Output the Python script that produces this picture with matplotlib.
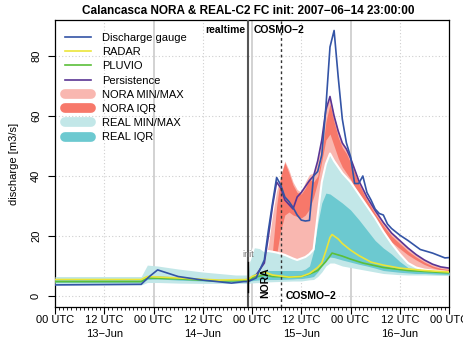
import matplotlib
matplotlib.use("Agg")
import matplotlib.pyplot as plt
from matplotlib.lines import Line2D
import numpy as np

plt.rcParams["font.family"] = ["Liberation Sans", "DejaVu Sans"]

# hours since 2007-06-13 00:00 UTC
gauge_h = [0, 21, 23, 25, 30, 36, 43, 46, 47, 49, 51, 52, 53, 54, 55, 56, 57, 58, 59, 60, 61, 62,
           63, 64, 65, 66, 67, 68, 69, 70, 71, 72, 73, 74, 75, 76, 77, 78, 79, 80, 81, 82, 84, 86,
           89, 92, 95, 96]
gauge_q = [3.7, 3.9, 6.5, 8.7, 6.5, 5.3, 4.3, 4.8, 4.8, 6.0, 12, 22, 31, 39.5, 37, 33, 31.5, 29.5,
           27, 25.3, 25, 25.2, 40, 41.5, 47, 63, 83, 88.5, 73, 59, 51, 46.5, 37.5, 37.5, 40, 34.5,
           32, 29, 27.5, 27, 24, 22.5, 20.3, 18.5, 15.5, 14.3, 12.7, 12.8]

radar_h = [0, 21, 22.5, 30, 40, 47, 48, 51, 53, 57, 60, 62, 64, 65, 66, 67, 67.5, 68, 69, 70, 72,
           74, 77, 80, 84, 90, 96]
radar_q = [5.5, 5.5, 6.5, 6.0, 5.3, 5.5, 6.5, 8.0, 7.0, 6.3, 6.5, 7.5, 9.5, 11, 15, 19.5, 20.5, 20,
           19, 17.5, 15.3, 13.5, 11.3, 10.3, 9.3, 8.5, 8.0]

pluvio_h = [0, 21, 22.5, 30, 40, 47, 48, 51, 53, 57, 60, 62, 64, 66, 67.5, 70, 72, 75, 80, 86, 96]
pluvio_q = [4.8, 4.8, 6.0, 5.7, 5.0, 5.2, 6.0, 7.0, 6.5, 6.3, 6.5, 7.3, 8.5, 11.5, 14.3, 13.3,
            12.3, 11.0, 9.5, 8.5, 7.7]

persist_h = [47, 49, 51, 52, 53, 54, 55, 56, 57, 58, 59, 60, 61, 62, 63, 64, 65, 66, 67, 68, 69,
             70, 71, 72, 74, 76, 78, 80, 82, 84, 86, 88, 90, 92, 94, 96]
persist_q = [5, 7, 11, 20, 30, 38, 36, 32, 30.5, 29, 33, 34.5, 36.5, 38.5, 40, 45, 52, 62, 66.5,
             60, 55, 51, 49, 46, 38.5, 33, 28.5, 24.5, 21, 18.5, 16, 13.8, 12, 10.6, 9.7, 9.3]

nora_h = [47, 49, 50, 51, 52, 53, 54, 55, 56, 57, 58, 59, 60, 61, 62, 63, 64, 65, 66, 67, 68, 69,
          70, 71, 72, 74, 76, 78, 80, 82, 84, 86, 88, 90, 92, 94, 96]
nora_max = [5, 7, 9, 11, 17, 27, 35, 40, 45, 42, 38, 35.5, 34.5, 38, 40.5, 41, 45, 52, 62, 66.5,
            60, 55, 51, 49, 46, 38.5, 33, 28.5, 24.5, 21, 18.5, 16, 13.8, 12, 10.6, 9.7, 9.3]
nora_q75 = [5, 6.5, 7, 8.5, 10, 15, 30, 40, 44.5, 41, 37, 34.5, 34, 36, 39, 38, 40, 47, 58, 64,
            58, 53, 49.5, 47.5, 44.5, 37.5, 32, 27.5, 23.5, 20, 17.5, 15, 13, 11.3, 10, 9.2, 8.8]
nora_q25 = [5, 5.5, 6, 7, 8, 10, 14, 22, 27, 28, 27, 26.5, 26, 27, 29, 33, 38, 45, 52, 54, 50, 46,
            43, 41, 39, 33, 28.5, 24.5, 21, 18, 15.8, 13.7, 12, 10.5, 9.4, 8.7, 8.4]
nora_min = [5, 5.3, 5.5, 5.8, 6, 7, 8, 9, 10, 10.5, 11, 11.2, 11.5, 11.8, 12, 13, 14, 18, 22, 30,
            28, 26, 24, 22, 20, 17.5, 15, 13, 11.5, 10.5, 9.5, 8.8, 8.3, 8, 7.7, 7.5, 7.3]

real_h = [0, 21, 22.5, 25, 30, 36, 44, 47, 47.5, 48.5, 50, 51, 52, 54, 56, 58, 59, 60, 61, 62, 63,
          64, 65, 66, 67, 68, 70, 72, 74, 76, 78, 80, 82, 84, 86, 88, 90, 93, 96]
real_max = [6.5, 6.5, 10.3, 10, 9, 8, 7, 7, 12, 16.3, 16, 15, 15, 14.5, 13.7, 12.5, 12, 12.5, 13,
            14, 15.5, 27, 38, 44, 47.5, 45, 41, 38, 34, 30, 26, 21.5, 17.5, 14, 11, 9.5, 8.8, 8.3, 8]
real_q75 = [5.6, 5.6, 6.8, 6.8, 6.3, 5.8, 5.5, 6, 6.5, 7.5, 8, 8.3, 8.5, 8.5, 8.5, 8.5, 8.5, 8.5,
            9, 10, 15, 24, 31, 34.3, 34, 33, 31, 28.7, 25.5, 22, 18.5, 16, 14, 11.5, 9.5, 8.7, 8.3,
            8, 7.8]
real_q25 = [4.6, 4.6, 5.5, 5.7, 5.3, 5.0, 4.8, 4.8, 5.0, 5.2, 5.4, 5.5, 5.5, 5.5, 5.6, 5.7, 5.8,
            5.8, 6, 6.2, 6.5, 8, 10, 12, 13, 12.8, 12, 11.3, 10.6, 10, 9.3, 8.5, 8.2, 7.9, 7.7, 7.5,
            7.5, 7.3, 7.2]
real_min = [3.7, 3.7, 4.5, 4.5, 4.3, 4.2, 4.2, 4.2, 4.3, 4.4, 4.5, 4.6, 4.7, 4.8, 4.9, 5, 5, 5,
            5.2, 5.4, 5.5, 6.5, 8, 10, 11, 11, 10, 9.5, 9, 8.5, 8, 7.5, 7.3, 7.1, 7, 7, 7, 6.9, 6.8]

tick_hours = [0, 12, 24, 36, 48, 60, 72, 84, 96]
tick_labels = ["00 UTC", "12 UTC\n13\u2212Jun", "00 UTC", "12 UTC\n14\u2212Jun", "00 UTC",
               "12 UTC\n15\u2212Jun", "00 UTC", "12 UTC\n16\u2212Jun", "00 UTC"]
init_h = 47
cosmo_h = 55

c_gauge = "#3354a6"
c_radar = "#ebe53a"
c_pluvio = "#5bbf3a"
c_persist = "#5a3594"
c_nora_mm = "#f9b7b0"
c_nora_iqr = "#f7786a"
c_real_mm = "#c2e7e8"
c_real_iqr = "#6cc9d0"

fig = plt.figure(figsize=(4.63, 3.52), dpi=100)
ax = fig.add_axes([0.1188, 0.1278, 0.851, 0.8154])

# grid
for h in [24, 48, 72]:
    ax.axvline(h, color="#cfcfcf", lw=1.3, zorder=0)
for h in [12, 36, 60, 84]:
    ax.axvline(h, color="#cfcfcf", lw=0.8, ls=(0, (1, 2)), zorder=0)
for v in [0, 20, 40, 60, 80]:
    ax.axhline(v, color="#cfcfcf", lw=0.8, ls=(0, (1, 2)), zorder=0)

# bands
ax.fill_between(nora_h, nora_min, nora_max, color=c_nora_mm, lw=0, zorder=1)
ax.fill_between(nora_h, nora_q25, nora_q75, color=c_nora_iqr, lw=0, zorder=2)
ax.fill_between(real_h, real_min, real_max, color=c_real_mm, lw=0, zorder=3)
ax.fill_between(real_h, real_q25, real_q75, color=c_real_iqr, lw=0, zorder=4)
ax.plot(real_h[8:], real_max[8:], color="white", lw=1.5, zorder=5)

# lines
ax.plot(persist_h, persist_q, color=c_persist, lw=1.2, zorder=6)
ax.plot(pluvio_h, pluvio_q, color=c_pluvio, lw=1.2, zorder=7)
ax.plot(radar_h, radar_q, color=c_radar, lw=1.2, zorder=8)
ax.plot(gauge_h, gauge_q, color=c_gauge, lw=1.2, zorder=9)

# markers for init / model change
ax.axvline(init_h, color="#555555", lw=1.5, zorder=10)
ax.axvline(cosmo_h, color="#333333", lw=1.0, ls=(0, (2, 2)), zorder=10)
ax.plot([init_h, init_h], [1.3, 11.3], color="black", lw=1.0, zorder=11)
ax.text(init_h, 13.7, "init", color="#777777", fontsize=6.5, ha="center", va="center", zorder=11)
ax.text(46.3, 88.7, "realtime", fontsize=7.5, fontweight="bold", ha="right", va="center")
ax.text(48.3, 88.7, "COSMO\u22122", fontsize=7.5, fontweight="bold", ha="left", va="center")
ax.text(51.3, 4.5, "NORA", fontsize=7.5, fontweight="bold", rotation=90, ha="center",
        va="center", zorder=12)
ax.text(56.2, 0, "COSMO\u22122", fontsize=7.5, fontweight="bold", ha="left", va="center", zorder=12)

ax.set_xlim(0, 96)
ax.set_ylim(-3.67, 92)
ax.set_xticks(tick_hours)
ax.set_xticklabels(tick_labels, fontsize=8, linespacing=1.5)
ax.set_xticks(np.arange(0, 97, 1), minor=True)
ax.tick_params(axis="x", which="major", length=5, width=0.8, pad=1)
ax.tick_params(axis="x", which="minor", length=2.5, width=0.6)
ax.set_yticks([0, 20, 40, 60, 80])
ax.set_yticklabels(["0", "20", "40", "60", "80"], rotation=90, va="center", fontsize=8)
ax.tick_params(axis="y", length=5, width=0.8, pad=5)
ax.set_ylabel("discharge [m3/s]", fontsize=8, labelpad=9)
for s in ax.spines.values():
    s.set_linewidth(0.9)

fig.text(0.536, 0.968, "Calancasca NORA & REAL-C2 FC init: 2007\u221206\u221214 23:00:00",
         fontsize=8.5, fontweight="bold", ha="center", va="center")

handles = [
    Line2D([], [], color=c_gauge, lw=1.2),
    Line2D([], [], color=c_radar, lw=1.2),
    Line2D([], [], color=c_pluvio, lw=1.2),
    Line2D([], [], color=c_persist, lw=1.2),
    Line2D([], [], color=c_nora_mm, lw=7, solid_capstyle="round"),
    Line2D([], [], color=c_nora_iqr, lw=7, solid_capstyle="round"),
    Line2D([], [], color=c_real_mm, lw=7, solid_capstyle="round"),
    Line2D([], [], color=c_real_iqr, lw=7, solid_capstyle="round"),
]
labels = ["Discharge gauge", "RADAR", "PLUVIO", "Persistence", "NORA MIN/MAX", "NORA IQR",
          "REAL MIN/MAX", "REAL IQR"]
ax.legend(handles, labels, loc="upper left", bbox_to_anchor=(0.0, 0.99), frameon=False,
          fontsize=8, handlelength=2.3, handletextpad=1.0, labelspacing=0.38, borderaxespad=0.5)

fig.savefig("out.png", dpi=100)
